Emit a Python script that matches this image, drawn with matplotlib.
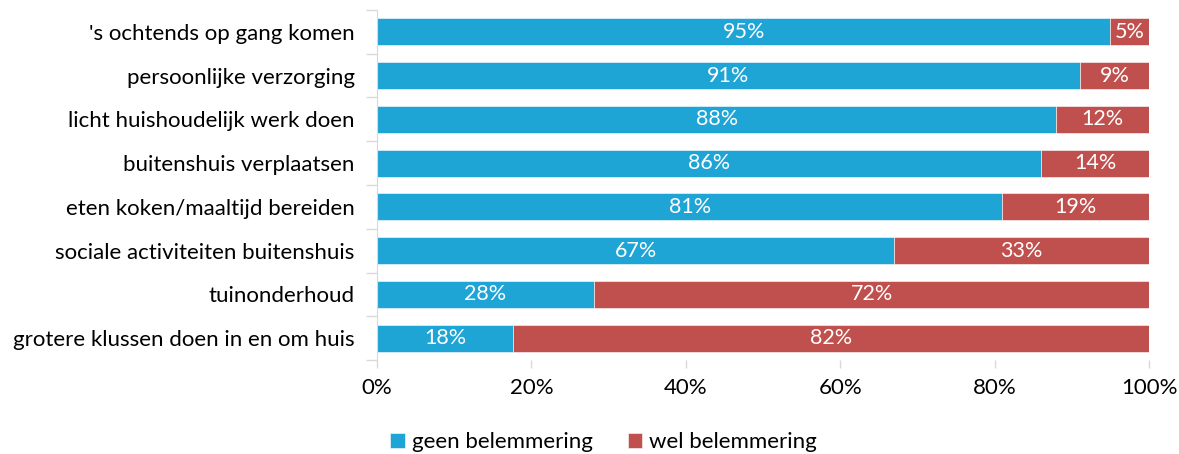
import matplotlib
matplotlib.use('Agg')
import numpy as np
import matplotlib.pyplot as plt

plt.rcParams['font.family'] = ['Lato', 'DejaVu Sans']

# Chart data (top to bottom as shown).
categories = ["'s ochtends op gang komen", 'persoonlijke verzorging', 'licht huishoudelijk werk doen',
              'buitenshuis verplaatsen', 'eten koken/maaltijd bereiden', 'sociale activiteiten buitenshuis',
              'tuinonderhoud', 'grotere klussen doen in en om huis']
geen = [95, 91, 88, 86, 81, 67, 28.1, 17.6]
wel = [5, 9, 12, 14, 19, 33, 71.9, 82.4]
series_names = ['geen belemmering', 'wel belemmering']
xticks = [0, 20, 40, 60, 80, 100]

blue = '#1FA5D5'
red = '#C0504D'
grey = '#D9D9D9'

fig = plt.figure(figsize = (11.79, 4.54), dpi = 100)
ax = fig.add_axes([0.3198, 0.207, 0.6548, 0.771])

y = np.arange(len(categories))
ax.barh(y, geen, height = 0.62, color = blue, edgecolor = 'white', linewidth = 0.4, label = series_names[0])
ax.barh(y, wel, left = geen, height = 0.62, color = red, edgecolor = 'white', linewidth = 0.4, label = series_names[1])

# Percent labels centred in each segment.
for i in range(len(categories)):
   ax.text(geen[i] / 2, y[i], f'{geen[i]:.0f}%', ha = 'center', va = 'center', color = 'white', fontsize = 15.5)
   ax.text(geen[i] + wel[i] / 2, y[i], f'{wel[i]:.0f}%', ha = 'center', va = 'center', color = 'white', fontsize = 15.5)

ax.set_xlim(0, 100)
ax.set_ylim(len(categories) - 0.5, -0.5)
ax.set_yticks(y)
ax.set_yticklabels(categories, fontsize = 16)
ax.set_yticks(np.arange(len(categories) + 1) - 0.5, minor = True)
ax.set_xticks(xticks)
ax.set_xticklabels([f'{t}%' for t in xticks], fontsize = 16)

ax.tick_params(axis = 'y', which = 'major', length = 0, pad = 16)
ax.tick_params(axis = 'y', which = 'minor', length = 8, color = grey, width = 1)
ax.tick_params(axis = 'x', length = 6, color = grey, width = 1, pad = 7)

for side in ['top', 'right', 'bottom']:
   ax.spines[side].set_visible(False)
ax.spines['left'].set_color(grey)

fig.legend(loc = 'lower center', bbox_to_anchor = (0.512, -0.04), ncol = 2, frameon = False, fontsize = 16,
           handlelength = 0.65, handleheight = 0.65, handletextpad = 0.3, columnspacing = 1.6)

fig.savefig('out.png', dpi = 100)
